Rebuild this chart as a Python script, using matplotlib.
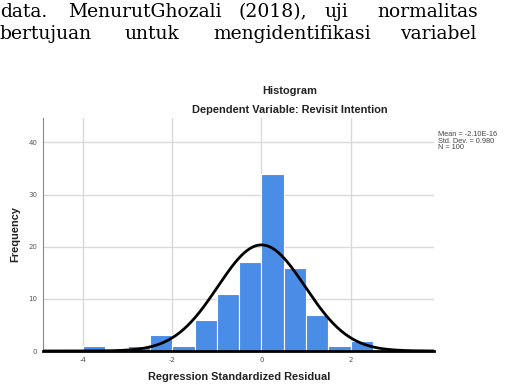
import numpy as np
import matplotlib
matplotlib.use("Agg")
import matplotlib.pyplot as plt

plt.rcParams["axes.unicode_minus"] = False

# data
bin_edges = [-4.0, -3.5, -3.0, -2.5, -2.0, -1.5, -1.0, -0.5, 0.0, 0.5, 1.0, 1.5, 2.0, 2.5]
counts = [1, 0, 1, 3, 1, 6, 11, 17, 34, 16, 7, 1, 2]
mean = 0.0
std = 0.980
n = 100
xticks = [-4, -2, 0, 2]
yticks = [0, 10, 20, 30, 40]

line1 = [("data.", 0), ("MenurutGhozali", 68), ("(2018),", 238), ("uji", 325), ("normalitas", 377)]
line2 = [("bertujuan", 0), ("untuk", 125), ("mengidentifikasi", 213), ("variabel", 400)]

W, H = 516, 390
fig = plt.figure(figsize=(W / 100, H / 100), dpi=100)

for words, y in ((line1, 17), (line2, 39)):
    for w, x in words:
        fig.text(x / W, 1 - y / H, w, fontsize=13.5, family="DejaVu Serif",
                 ha="left", va="baseline", color="black")

ax = fig.add_axes([43 / W, 1 - 351 / H, (434 - 43) / W, (351 - 118) / H])
lefts = bin_edges[:-1]
widths = np.diff(bin_edges)
ax.bar(lefts, counts, width=widths, align="edge", color="#4a8de6",
       edgecolor="white", linewidth=0.8, zorder=3)

xlim = (-4.9, 3.87)
xs = np.linspace(xlim[0], xlim[1], 400)
bw = 0.5
ys = n * bw / (std * np.sqrt(2 * np.pi)) * np.exp(-0.5 * ((xs - mean) / std) ** 2)
ax.plot(xs, ys, color="black", lw=2, zorder=4)

ax.set_xlim(*xlim)
ax.set_ylim(0, 44.7)
ax.set_xticks(xticks)
ax.set_yticks(yticks)
ax.tick_params(length=0, labelsize=5, colors="#555555", pad=4)
ax.grid(True, color="#d9d9d9", lw=1, zorder=0)
for s in ("top", "right"):
    ax.spines[s].set_visible(False)
ax.spines["left"].set_color("#888888")
ax.spines["left"].set_linewidth(0.8)
ax.spines["bottom"].set_color("black")
ax.spines["bottom"].set_linewidth(2)
ax.spines["bottom"].set_zorder(5)

lab = dict(fontsize=7.9, fontweight="bold", color="#222222", family="Liberation Sans")
fig.text(290 / W, 1 - 91 / H, "Histogram", ha="center", va="center", **lab)
fig.text(290 / W, 1 - 110 / H, "Dependent Variable: Revisit Intention", ha="center",
         va="center", **lab)
fig.text(239 / W, 1 - 377 / H, "Regression Standardized Residual", ha="center",
         va="center", **lab)
fig.text(15 / W, 1 - 234 / H, "Frequency", ha="center", va="center", rotation=90, **lab)
fig.text(438 / W, 1 - 141 / H, "Mean = -2.10E-16\nStd. Dev. = 0.980\nN = 100",
         ha="left", va="center", fontsize=5.3, color="#444444",
         family="Liberation Sans", linespacing=0.85)

fig.savefig("out.png", dpi=100)
